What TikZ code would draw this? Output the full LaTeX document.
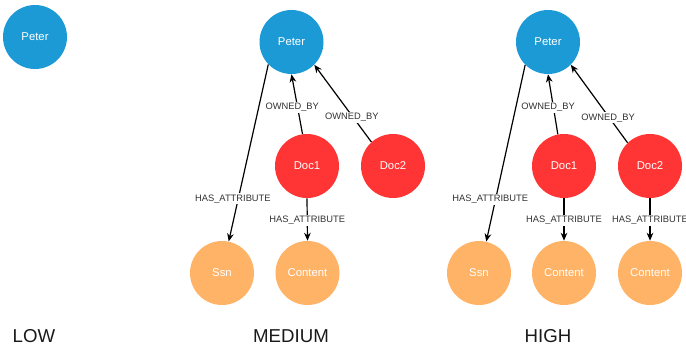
\documentclass[tikz,border=0pt]{standalone}
\usepackage{fontspec}
\setmainfont{Liberation Sans}
\usepackage{xcolor}
\usetikzlibrary{positioning,arrows.meta}

\definecolor{personblue}{HTML}{1B9AD6}
\definecolor{docred}{HTML}{FF3434}
\definecolor{attrorange}{HTML}{FFB367}
\definecolor{labelgray}{HTML}{333333}

\tikzset{
	entity/.style={circle, minimum size=48pt, inner sep=0pt, text=white, font=\fontsize{8.5}{10}\selectfont},
	person/.style={entity, fill=personblue},
	document/.style={entity, fill=docred},
	attribute/.style={entity, fill=attrorange},
	rel/.style={draw=black, line width=0.9pt, -{Stealth[length=6pt, width=5pt]}},
	elabel/.style={fill=white, text=labelgray, inner sep=1pt, font=\fontsize{7}{8}\selectfont},
	level/.style={text=black!90, font=\fontsize{14}{16}\selectfont}
}

\begin{document}
\begin{tikzpicture}[x=0.75pt, y=-0.75pt]
		\useasboundingbox (0,0) rectangle (686,351);

		% low level: only the person
		\node[person] (lowpeter) at (35,37) {Peter};

		% medium level
		\node[person] (medpeter) at (291.5,42) {Peter};
		\node[document] (meddocA) at (307,166) {Doc1};
		\node[document] (meddocB) at (393,166) {Doc2};
		\node[attribute] (medssn) at (222,273) {Ssn};
		\node[attribute] (medcontent) at (307.5,273) {Content};

		% high level
		\node[person] (highpeter) at (548,42) {Peter};
		\node[document] (highdocA) at (564,166) {Doc1};
		\node[document] (highdocB) at (650,166) {Doc2};
		\node[attribute] (highssn) at (479,273) {Ssn};
		\node[attribute] (highcontentA) at (564,273) {Content};
		\node[attribute] (highcontentB) at (650,273) {Content};

		% relations, medium
		\draw[rel] (medpeter.224) -- node[elabel, pos=0.76, xshift=-4pt] {HAS\_ATTRIBUTE} (medssn.78);
		\draw[rel] (meddocA.98) -- node[elabel, pos=0.45, xshift=-4pt] {OWNED\_BY} (medpeter.270);
		\draw[rel] (meddocB.132) -- node[elabel, pos=0.32, xshift=-1pt] {OWNED\_BY} (medpeter.315);
		\draw[rel] (meddocA.270) -- node[elabel, pos=0.52] {HAS\_ATTRIBUTE} (medcontent.90);

		% relations, high
		\draw[rel] (highpeter.225) -- node[elabel, pos=0.76, xshift=-4pt] {HAS\_ATTRIBUTE} (highssn.77);
		\draw[rel] (highdocA.101) -- node[elabel, pos=0.45, xshift=-4pt] {OWNED\_BY} (highpeter.270);
		\draw[rel] (highdocB.134) -- node[elabel, pos=0.32, xshift=-1pt] {OWNED\_BY} (highpeter.315);
		\draw[rel] (highdocA.270) -- node[elabel, pos=0.52] {HAS\_ATTRIBUTE} (highcontentA.90);
		\draw[rel] (highdocB.270) -- node[elabel, pos=0.52] {HAS\_ATTRIBUTE} (highcontentB.90);

		% level captions
		\node[level] (lowcaption) at (34,336.5) {LOW};
		\node[level] (medcaption) at (291,336.5) {MEDIUM};
		\node[level] (highcaption) at (548,336.5) {HIGH};
	\end{tikzpicture}
\end{document}
